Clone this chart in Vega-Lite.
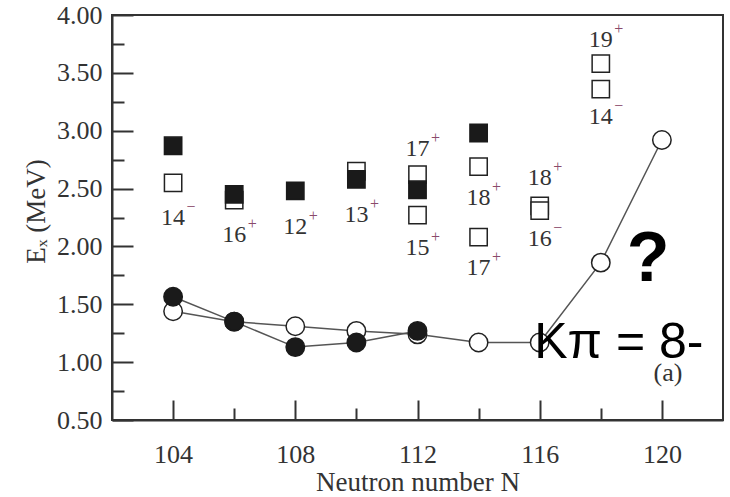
{
  "$schema": "https://vega.github.io/schema/vega-lite/v6.json",
  "width": 611,
  "height": 405,
  "autosize": "none",
  "padding": {"left": 112, "top": 15, "right": 7, "bottom": 77},
  "config": {
    "view": {"stroke": "#333333", "strokeWidth": 2},
    "axis": {"grid": false, "tickColor": "#333333", "tickWidth": 2}
  },
  "data": {
    "values": [
      {"set": "circle", "N": 104, "E": 1.44, "kind": "open"},
      {"set": "circle", "N": 106, "E": 1.35, "kind": "open"},
      {"set": "circle", "N": 108, "E": 1.31, "kind": "open"},
      {"set": "circle", "N": 110, "E": 1.27, "kind": "open"},
      {"set": "circle", "N": 112, "E": 1.24, "kind": "open"},
      {"set": "circle", "N": 114, "E": 1.17, "kind": "open"},
      {"set": "circle", "N": 116, "E": 1.17, "kind": "open"},
      {"set": "circle", "N": 118, "E": 1.86, "kind": "open"},
      {"set": "circle", "N": 120, "E": 2.92, "kind": "open"},
      {"set": "circle", "N": 104, "E": 1.565, "kind": "filled"},
      {"set": "circle", "N": 106, "E": 1.35, "kind": "filled"},
      {"set": "circle", "N": 108, "E": 1.13, "kind": "filled"},
      {"set": "circle", "N": 110, "E": 1.17, "kind": "filled"},
      {"set": "circle", "N": 112, "E": 1.27, "kind": "filled"},
      {"set": "square", "N": 104, "E": 2.55, "kind": "open"},
      {"set": "square", "N": 106, "E": 2.40, "kind": "open"},
      {"set": "square", "N": 110, "E": 2.65, "kind": "open"},
      {"set": "square", "N": 112, "E": 2.62, "kind": "open"},
      {"set": "square", "N": 112, "E": 2.27, "kind": "open"},
      {"set": "square", "N": 114, "E": 2.69, "kind": "open"},
      {"set": "square", "N": 114, "E": 2.08, "kind": "open"},
      {"set": "square", "N": 116, "E": 2.35, "kind": "open"},
      {"set": "square", "N": 116, "E": 2.31, "kind": "open"},
      {"set": "square", "N": 118, "E": 3.58, "kind": "open"},
      {"set": "square", "N": 118, "E": 3.36, "kind": "open"},
      {"set": "square", "N": 104, "E": 2.87, "kind": "filled"},
      {"set": "square", "N": 106, "E": 2.45, "kind": "filled"},
      {"set": "square", "N": 108, "E": 2.48, "kind": "filled"},
      {"set": "square", "N": 110, "E": 2.58, "kind": "filled"},
      {"set": "square", "N": 112, "E": 2.49, "kind": "filled"},
      {"set": "square", "N": 114, "E": 2.98, "kind": "filled"},
      {"set": "label", "N": 104, "E": 2.25, "text": "14", "sign": "−"},
      {"set": "label", "N": 106, "E": 2.10, "text": "16", "sign": "+"},
      {"set": "label", "N": 108, "E": 2.17, "text": "12", "sign": "+"},
      {"set": "label", "N": 110, "E": 2.27, "text": "13", "sign": "+"},
      {"set": "label", "N": 112, "E": 2.84, "text": "17", "sign": "+"},
      {"set": "label", "N": 112, "E": 1.99, "text": "15", "sign": "+"},
      {"set": "label", "N": 114, "E": 2.42, "text": "18", "sign": "+"},
      {"set": "label", "N": 114, "E": 1.81, "text": "17", "sign": "+"},
      {"set": "label", "N": 116, "E": 2.59, "text": "18", "sign": "+"},
      {"set": "label", "N": 116, "E": 2.06, "text": "16", "sign": "−"},
      {"set": "label", "N": 118, "E": 3.78, "text": "19", "sign": "+"},
      {"set": "label", "N": 118, "E": 3.12, "text": "14", "sign": "−"},
      {"set": "note", "N": 119.55, "E": 1.70, "text": "?", "kind": "q"},
      {"set": "note", "N": 115.82, "E": 1.035, "text": "Kπ = 8-", "kind": "k"},
      {"set": "note", "N": 120.2, "E": 0.84, "text": "(a)", "kind": "a"}
    ]
  },
  "encoding": {
    "x": {
      "field": "N", "type": "quantitative",
      "scale": {"domain": [102, 122], "nice": false, "zero": false},
      "axis": {
        "orient": "bottom",
        "values": [104, 106, 108, 110, 112, 114, 116, 118, 120],
        "labelExpr": "datum.value % 4 === 0 ? datum.label : ''",
        "tickSize": {"condition": {"test": "datum.value % 4 === 0", "value": -20}, "value": -12},
        "labelPadding": 41,
        "labelFont": "Liberation Serif",
        "labelFontSize": 26,
        "labelColor": "#333333",
        "domainColor": "#333333",
        "domainWidth": 2,
        "title": "Neutron number N",
        "titleFont": "Liberation Serif",
        "titleFontSize": 27,
        "titleFontWeight": "normal",
        "titleColor": "#333333",
        "titleBaseline": "alphabetic",
        "titleY": 70
      }
    },
    "y": {
      "field": "E", "type": "quantitative",
      "scale": {"domain": [0.5, 4.0], "nice": false, "zero": false},
      "axis": {
        "orient": "left",
        "values": [0.5, 0.75, 1.0, 1.25, 1.5, 1.75, 2.0, 2.25, 2.5, 2.75, 3.0, 3.25, 3.5, 3.75, 4.0],
        "format": ".2f",
        "labelExpr": "round(datum.value * 4) % 2 === 0 ? datum.label : ''",
        "tickSize": {"condition": {"test": "round(datum.value * 4) % 2 === 0", "value": -21}, "value": -12},
        "labelPadding": 31,
        "labelFont": "Liberation Serif",
        "labelFontSize": 26,
        "labelColor": "#333333",
        "domainColor": "#333333",
        "domainWidth": 2,
        "title": "Eₓ (MeV)",
        "titleFont": "Liberation Serif",
        "titleFontSize": 27,
        "titleFontWeight": "normal",
        "titleColor": "#333333",
        "titleAngle": 270,
        "titleAlign": "center",
        "titleBaseline": "alphabetic",
        "titleX": -68,
        "titleY": 196
      }
    }
  },
  "layer": [
    {
      "transform": [{"filter": "datum.set === 'circle'"}],
      "mark": {"type": "line", "color": "#555555", "strokeWidth": 1.5},
      "encoding": {"detail": {"field": "kind"}}
    },
    {
      "transform": [{"filter": "datum.set === 'circle' && datum.kind === 'open'"}],
      "mark": {"type": "point", "shape": "circle", "filled": false, "fill": "white", "fillOpacity": 1, "stroke": "#222222", "strokeWidth": 1.5, "size": 340, "opacity": 1}
    },
    {
      "transform": [{"filter": "datum.set === 'circle' && datum.kind === 'filled'"}],
      "mark": {"type": "point", "shape": "circle", "filled": true, "fill": "#1a1a1a", "stroke": "#1a1a1a", "strokeWidth": 1.5, "size": 340, "opacity": 1}
    },
    {
      "transform": [{"filter": "datum.set === 'square' && datum.kind === 'open'"}],
      "mark": {"type": "point", "shape": "square", "filled": false, "fill": "white", "fillOpacity": 1, "stroke": "#222222", "strokeWidth": 1.5, "size": 300, "opacity": 1}
    },
    {
      "transform": [{"filter": "datum.set === 'square' && datum.kind === 'filled'"}],
      "mark": {"type": "point", "shape": "square", "filled": true, "fill": "#1a1a1a", "stroke": "#1a1a1a", "strokeWidth": 1.5, "size": 300, "opacity": 1}
    },
    {
      "transform": [{"filter": "datum.set === 'label'"}],
      "mark": {"type": "text", "font": "Liberation Serif", "fontSize": 24, "color": "#333333", "align": "center", "baseline": "middle"},
      "encoding": {"text": {"field": "text"}}
    },
    {
      "transform": [{"filter": "datum.set === 'label'"}],
      "mark": {"type": "text", "font": "Liberation Serif", "fontSize": 16, "color": "#8a4a6a", "align": "center", "baseline": "middle", "dx": 18, "dy": -11},
      "encoding": {"text": {"field": "sign"}}
    },
    {
      "transform": [{"filter": "datum.set === 'note' && datum.kind === 'q'"}],
      "mark": {"type": "text", "font": "Liberation Sans", "fontSize": 70, "fontWeight": "bold", "color": "black", "align": "center", "baseline": "alphabetic"},
      "encoding": {"text": {"field": "text"}}
    },
    {
      "transform": [{"filter": "datum.set === 'note' && datum.kind === 'a'"}],
      "mark": {"type": "text", "font": "Liberation Serif", "fontSize": 26, "color": "#333333", "align": "center", "baseline": "alphabetic"},
      "encoding": {"text": {"field": "text"}}
    },
    {
      "transform": [{"filter": "datum.set === 'note' && datum.kind === 'k'"}],
      "mark": {"type": "text", "font": "Liberation Sans", "fontSize": 50, "color": "black", "align": "left", "baseline": "alphabetic"},
      "encoding": {"text": {"field": "text"}}
    }
  ]
}
